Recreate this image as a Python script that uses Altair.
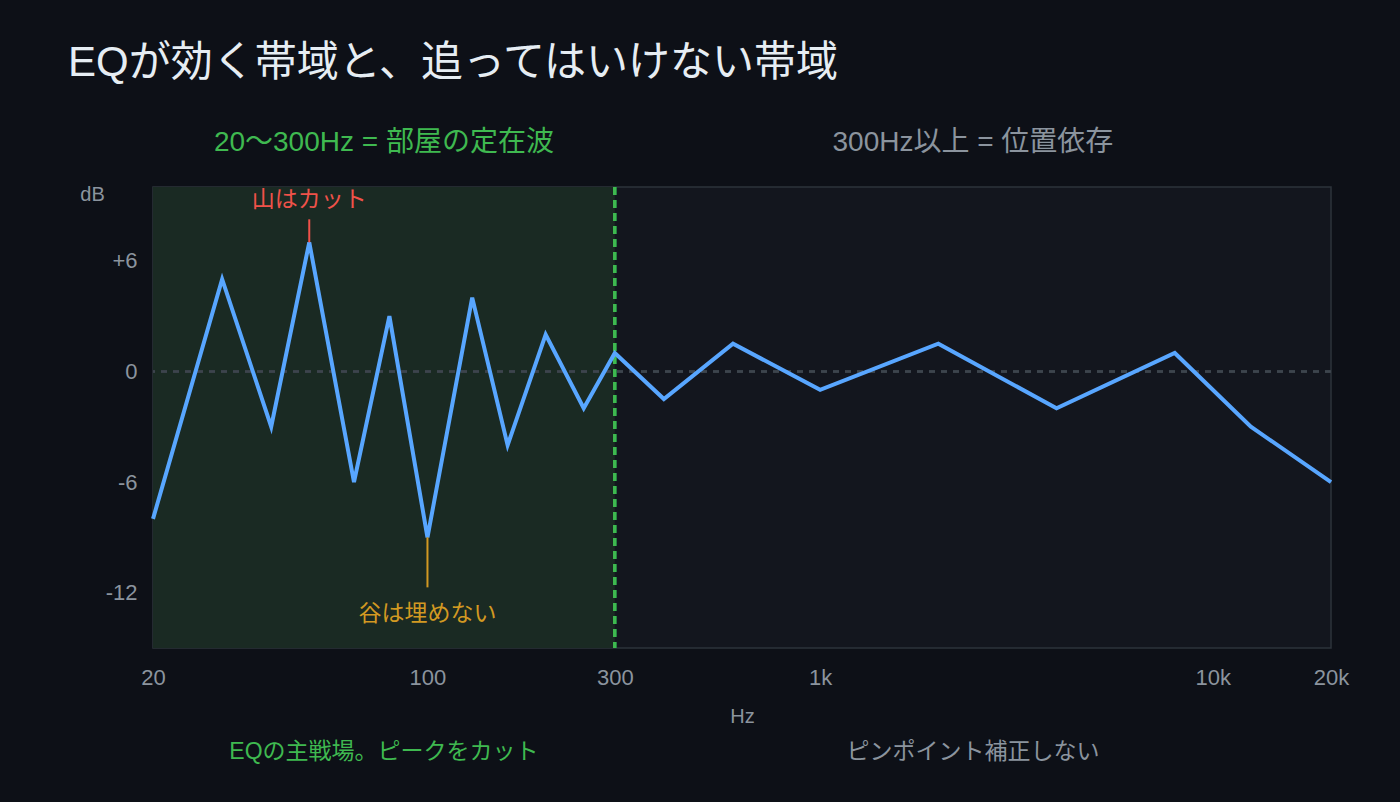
import math
import altair as alt
import jinja2
import pandas as pd

# ---- data ----
freq = [20, 30, 40, 50, 65, 80, 100, 130, 160, 200, 250, 300,
        400, 600, 1000, 2000, 4000, 8000, 12500, 20000]
db = [-8, 5, -3, 7, -6, 3, -9, 4, -4, 2, -2, 1,
      -1.5, 1.5, -1, 1.5, -2, 1, -3, -6]

x_ticks = [20, 100, 300, 1000, 10000, 20000]
y_ticks = [-12, -6, 0, 6]
x_domain = [20, 20000]
y_domain = [-15, 10]

split_freq = 300

title_text = "EQが効く帯域と、追ってはいけない帯域"
top_labels = ["20〜300Hz = 部屋の定在波", "300Hz以上 = 位置依存"]
bottom_labels = ["EQの主戦場。ピークをカット", "ピンポイント補正しない"]
label_colors = ["#3fb950", "#8b949e"]

peak_label, peak_freq, peak_db = "山はカット", 50, 7
dip_label, dip_freq, dip_db = "谷は埋めない", 100, -9

# ---- styling ----
W, H = 1178, 461
FONT = "Liberation Sans, Arial, Noto Sans CJK JP"
BG = "#0d1017"
PLOT_BG = "#13161e"
REGION = "#1a2a23"
GREEN = "#3fb950"
GRAY = "#8b949e"
BLUE = "#58a6ff"
RED = "#f0524a"
AMBER = "#d29922"

xscale = alt.Scale(type="log", domain=x_domain, nice=False)
yscale = alt.Scale(domain=y_domain, nice=False, zero=False)

df = pd.DataFrame({"freq": freq, "db": db})

centers = [math.sqrt(x_domain[0] * split_freq), math.sqrt(split_freq * x_domain[1])]
regions = pd.DataFrame({"xc": centers, "top": top_labels,
                        "bottom": bottom_labels, "color": label_colors})
region_rect = pd.DataFrame({"x0": [x_domain[0]], "x1": [split_freq],
                            "y0": [y_domain[0]], "y1": [y_domain[1]]})
ann = pd.DataFrame({"freq": [peak_freq, dip_freq], "db": [peak_db, dip_db],
                    "label": [peak_label, dip_label]})

label_expr = "datum.value >= 1000 ? (datum.value / 1000) + 'k' : '' + datum.value"

x_enc = alt.X("freq:Q", scale=xscale, title="Hz",
              axis=alt.Axis(values=x_ticks, labelExpr=label_expr,
                            labelPadding=19, titlePadding=18,
                            titleFontSize=20, titleColor=GRAY,
                            titleFontWeight="normal", labelFlush=False))
y_enc = alt.Y("db:Q", scale=yscale, title="dB",
              axis=alt.Axis(values=y_ticks,
                            labelExpr="datum.value > 0 ? '+' + datum.value : '' + datum.value",
                            labelPadding=16, titleAngle=0, titleX=-61, titleY=7,
                            titleAlign="center", titleBaseline="middle",
                            titleFontSize=20, titleColor=GRAY,
                            titleFontWeight="normal"))

rect = alt.Chart(region_rect).mark_rect(fill=REGION).encode(
    x=alt.X("x0:Q", scale=xscale), x2="x1:Q",
    y=alt.Y("y0:Q", scale=yscale), y2="y1:Q")

zero = alt.Chart(df).mark_rule(color="#3d444d", strokeDash=[6, 6], strokeWidth=1.5).encode(
    y=alt.datum(0, scale=yscale))

split = alt.Chart(df).mark_rule(color=GREEN, strokeDash=[8, 5], strokeWidth=2.5).encode(
    x=alt.datum(split_freq, scale=xscale))

line = alt.Chart(df).mark_line(color=BLUE, strokeWidth=4, strokeJoin="miter").encode(
    x=x_enc, y=y_enc)

peak_df = ann.iloc[[0]]
dip_df = ann.iloc[[1]]
peak_rule = alt.Chart(peak_df).mark_rule(color=RED, strokeWidth=2, y2Offset=-23).encode(
    x=alt.X("freq:Q", scale=xscale), y=alt.Y("db:Q", scale=yscale), y2="db:Q")
peak_text = alt.Chart(peak_df).mark_text(color=RED, font=FONT, fontSize=23, dy=-42,
                                         baseline="middle").encode(
    x=alt.X("freq:Q", scale=xscale), y=alt.Y("db:Q", scale=yscale), text="label:N")
dip_rule = alt.Chart(dip_df).mark_rule(color=AMBER, strokeWidth=2, y2Offset=50).encode(
    x=alt.X("freq:Q", scale=xscale), y=alt.Y("db:Q", scale=yscale), y2="db:Q")
dip_text = alt.Chart(dip_df).mark_text(color=AMBER, font=FONT, fontSize=23, dy=77,
                                       baseline="middle").encode(
    x=alt.X("freq:Q", scale=xscale), y=alt.Y("db:Q", scale=yscale), text="label:N")

top_text = alt.Chart(regions).mark_text(font=FONT, fontSize=28, baseline="middle").encode(
    x=alt.X("xc:Q", scale=xscale), y=alt.value(-44), text="top:N",
    color=alt.Color("color:N", scale=None))
bottom_text = alt.Chart(regions).mark_text(font=FONT, fontSize=23, baseline="middle").encode(
    x=alt.X("xc:Q", scale=xscale), y=alt.value(565), text="bottom:N",
    color=alt.Color("color:N", scale=None))

title = alt.Chart(pd.DataFrame({"t": [title_text]})).mark_text(
    font=FONT, fontSize=42, color="#e6edf3", align="left", baseline="middle").encode(
    x=alt.value(-85), y=alt.value(-124), text="t:N")

chart = alt.layer(rect, zero, split, line, peak_rule, dip_rule, peak_text, dip_text,
                  top_text, bottom_text, title).properties(
    width=W, height=H,
    autosize=alt.AutoSizeParams(type="none"),
    padding={"left": 153, "top": 187, "right": 60, "bottom": 150},
    background=BG,
).configure_view(
    fill=PLOT_BG, stroke="#2d333b", strokeWidth=1.5
).configure_axis(
    domain=False, ticks=False, grid=False,
    labelColor=GRAY, labelFont=FONT, labelFontSize=22, titleFont=FONT
)

PAGE = jinja2.Template("""<!DOCTYPE html>
<html>
<head>
  <meta charset="utf-8">
  <style>html, body { margin: 0; padding: 0; background: #0d1017; }</style>
  <script type="text/javascript" src="{{ base_url }}/vega@{{ vega_version }}"></script>
  <script type="text/javascript" src="{{ base_url }}/vega-lite@{{ vegalite_version }}"></script>
  <script type="text/javascript" src="{{ base_url }}/vega-embed@{{ vegaembed_version }}"></script>
</head>
<body>
  <div id="{{ output_div }}"></div>
  <script type="text/javascript">
    var spec = {{ spec }};
    var embedOpt = {{ embed_options }};
    vegaEmbed("#{{ output_div }}", spec, embedOpt);
  </script>
</body>
</html>""")

chart.save("out.html", embed_options={"renderer": "svg", "actions": False}, template=PAGE)
